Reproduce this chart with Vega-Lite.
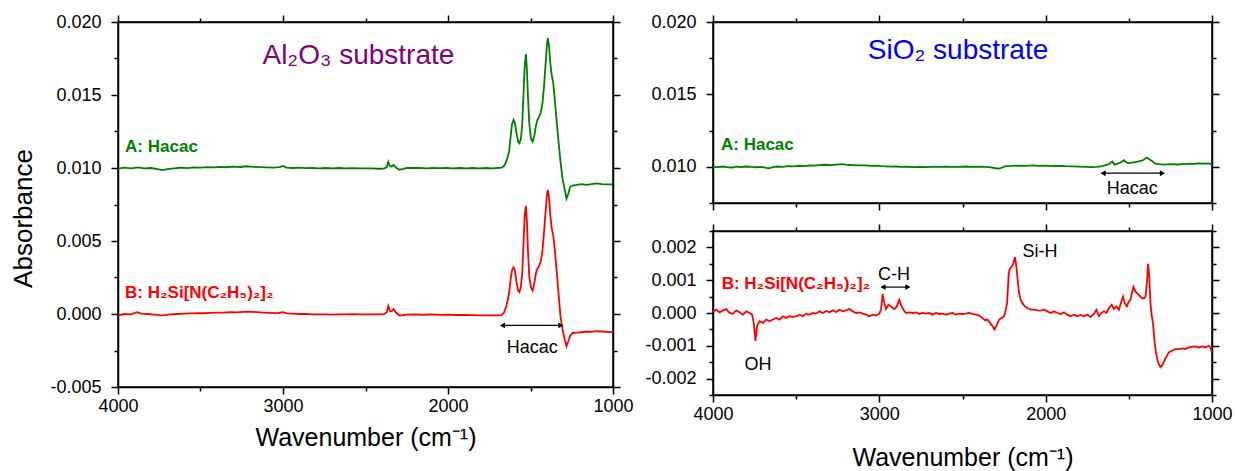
{
  "$schema": "https://vega.github.io/schema/vega-lite/v6.json",
  "background": "white",
  "padding": {"left": 10, "top": 12, "right": 2, "bottom": 2},
  "config": {
    "font": "Liberation Sans",
    "view": {"stroke": "black", "strokeWidth": 1.5},
    "axis": {"domainColor": "black", "domainWidth": 1.5, "tickColor": "black", "tickWidth": 1.5, "labelFont": "Liberation Sans", "labelFontSize": 18, "labelColor": "black", "titleFont": "Liberation Sans", "titleFontWeight": "normal", "titleColor": "black", "grid": false}
  },
  "datasets": {
    "al": [
      {"series":"A","w":4000,"v":0.00995},{"series":"A","w":3960,"v":0.01002},{"series":"A","w":3920,"v":0.00998},{"series":"A","w":3880,"v":0.01004},{"series":"A","w":3840,"v":0.00998},{"series":"A","w":3800,"v":0.01000},{"series":"A","w":3760,"v":0.00992},{"series":"A","w":3730,"v":0.00985},{"series":"A","w":3700,"v":0.00993},{"series":"A","w":3660,"v":0.00998},{"series":"A","w":3620,"v":0.01002},{"series":"A","w":3580,"v":0.00999},{"series":"A","w":3540,"v":0.01004},{"series":"A","w":3500,"v":0.01002},{"series":"A","w":3460,"v":0.01006},{"series":"A","w":3420,"v":0.01004},{"series":"A","w":3380,"v":0.01008},{"series":"A","w":3340,"v":0.01005},{"series":"A","w":3300,"v":0.01009},{"series":"A","w":3260,"v":0.01007},{"series":"A","w":3220,"v":0.01012},{"series":"A","w":3180,"v":0.01008},{"series":"A","w":3140,"v":0.01006},{"series":"A","w":3100,"v":0.01004},{"series":"A","w":3060,"v":0.01002},{"series":"A","w":3020,"v":0.01006},{"series":"A","w":3000,"v":0.01014},{"series":"A","w":2980,"v":0.01003},{"series":"A","w":2940,"v":0.01000},{"series":"A","w":2900,"v":0.01002},{"series":"A","w":2860,"v":0.00999},{"series":"A","w":2820,"v":0.01001},{"series":"A","w":2780,"v":0.00998},{"series":"A","w":2740,"v":0.01000},{"series":"A","w":2700,"v":0.00998},{"series":"A","w":2660,"v":0.01000},{"series":"A","w":2620,"v":0.00997},{"series":"A","w":2580,"v":0.00999},{"series":"A","w":2540,"v":0.00998},{"series":"A","w":2500,"v":0.00997},{"series":"A","w":2460,"v":0.00998},{"series":"A","w":2420,"v":0.00995},{"series":"A","w":2390,"v":0.00996},{"series":"A","w":2372,"v":0.01005},{"series":"A","w":2362,"v":0.01042},{"series":"A","w":2352,"v":0.01012},{"series":"A","w":2342,"v":0.01010},{"series":"A","w":2330,"v":0.01021},{"series":"A","w":2315,"v":0.01003},{"series":"A","w":2295,"v":0.00988},{"series":"A","w":2275,"v":0.00993},{"series":"A","w":2250,"v":0.01000},{"series":"A","w":2210,"v":0.01001},{"series":"A","w":2170,"v":0.01000},{"series":"A","w":2130,"v":0.00998},{"series":"A","w":2090,"v":0.01001},{"series":"A","w":2050,"v":0.00999},{"series":"A","w":2010,"v":0.01000},{"series":"A","w":1970,"v":0.00998},{"series":"A","w":1930,"v":0.01000},{"series":"A","w":1890,"v":0.00997},{"series":"A","w":1850,"v":0.01000},{"series":"A","w":1810,"v":0.00998},{"series":"A","w":1770,"v":0.01000},{"series":"A","w":1730,"v":0.00997},{"series":"A","w":1700,"v":0.01000},{"series":"A","w":1675,"v":0.01002},{"series":"A","w":1660,"v":0.01015},{"series":"A","w":1645,"v":0.0105},{"series":"A","w":1630,"v":0.0111},{"series":"A","w":1620,"v":0.0122},{"series":"A","w":1612,"v":0.0130},{"series":"A","w":1603,"v":0.0133},{"series":"A","w":1595,"v":0.0131},{"series":"A","w":1585,"v":0.0124},{"series":"A","w":1575,"v":0.0118},{"series":"A","w":1567,"v":0.0117},{"series":"A","w":1558,"v":0.0120},{"series":"A","w":1550,"v":0.0130},{"series":"A","w":1542,"v":0.0152},{"series":"A","w":1535,"v":0.0170},{"series":"A","w":1528,"v":0.0178},{"series":"A","w":1522,"v":0.0168},{"series":"A","w":1515,"v":0.0148},{"series":"A","w":1507,"v":0.0130},{"series":"A","w":1497,"v":0.0120},{"series":"A","w":1487,"v":0.0118},{"series":"A","w":1477,"v":0.0122},{"series":"A","w":1467,"v":0.0129},{"series":"A","w":1458,"v":0.0133},{"series":"A","w":1448,"v":0.0135},{"series":"A","w":1438,"v":0.0138},{"series":"A","w":1428,"v":0.0144},{"series":"A","w":1418,"v":0.0156},{"series":"A","w":1408,"v":0.0172},{"series":"A","w":1400,"v":0.0185},{"series":"A","w":1395,"v":0.0189},{"series":"A","w":1388,"v":0.0184},{"series":"A","w":1380,"v":0.0172},{"series":"A","w":1372,"v":0.0164},{"series":"A","w":1362,"v":0.0158},{"series":"A","w":1352,"v":0.0146},{"series":"A","w":1342,"v":0.0133},{"series":"A","w":1330,"v":0.0118},{"series":"A","w":1318,"v":0.0104},{"series":"A","w":1305,"v":0.0092},{"series":"A","w":1292,"v":0.0085},{"series":"A","w":1282,"v":0.0079},{"series":"A","w":1272,"v":0.0082},{"series":"A","w":1260,"v":0.0087},{"series":"A","w":1245,"v":0.0088},{"series":"A","w":1220,"v":0.00885},{"series":"A","w":1190,"v":0.0089},{"series":"A","w":1160,"v":0.00885},{"series":"A","w":1130,"v":0.0089},{"series":"A","w":1100,"v":0.00895},{"series":"A","w":1070,"v":0.0089},{"series":"A","w":1040,"v":0.00888},{"series":"A","w":1000,"v":0.00888},
      {"series":"B","w":4000,"v":-0.0001},{"series":"B","w":3960,"v":0.0},{"series":"B","w":3920,"v":-0.00002},{"series":"B","w":3885,"v":0.00012},{"series":"B","w":3860,"v":0.00002},{"series":"B","w":3820,"v":0.0},{"series":"B","w":3780,"v":-0.00004},{"series":"B","w":3740,"v":-0.0001},{"series":"B","w":3720,"v":-0.00008},{"series":"B","w":3680,"v":-0.00002},{"series":"B","w":3640,"v":0.0},{"series":"B","w":3600,"v":0.00002},{"series":"B","w":3560,"v":0.00004},{"series":"B","w":3520,"v":0.00006},{"series":"B","w":3480,"v":0.00005},{"series":"B","w":3440,"v":0.00008},{"series":"B","w":3400,"v":0.00009},{"series":"B","w":3360,"v":0.0001},{"series":"B","w":3320,"v":0.00012},{"series":"B","w":3280,"v":0.00011},{"series":"B","w":3240,"v":0.00014},{"series":"B","w":3200,"v":0.00016},{"series":"B","w":3160,"v":0.00013},{"series":"B","w":3120,"v":0.0001},{"series":"B","w":3080,"v":0.00008},{"series":"B","w":3040,"v":0.00006},{"series":"B","w":3000,"v":0.00012},{"series":"B","w":2975,"v":0.00004},{"series":"B","w":2940,"v":0.00002},{"series":"B","w":2900,"v":0.0},{"series":"B","w":2860,"v":0.00001},{"series":"B","w":2820,"v":-0.00002},{"series":"B","w":2780,"v":-0.00003},{"series":"B","w":2740,"v":-0.00002},{"series":"B","w":2700,"v":-0.00004},{"series":"B","w":2660,"v":-0.00002},{"series":"B","w":2620,"v":-0.00003},{"series":"B","w":2580,"v":-0.00001},{"series":"B","w":2540,"v":-0.00002},{"series":"B","w":2500,"v":-0.00003},{"series":"B","w":2460,"v":-0.00002},{"series":"B","w":2420,"v":-0.00003},{"series":"B","w":2390,"v":-0.00002},{"series":"B","w":2372,"v":0.0001},{"series":"B","w":2362,"v":0.00055},{"series":"B","w":2352,"v":0.0002},{"series":"B","w":2342,"v":0.00018},{"series":"B","w":2330,"v":0.00033},{"series":"B","w":2315,"v":0.0001},{"series":"B","w":2295,"v":-0.0001},{"series":"B","w":2275,"v":-0.00008},{"series":"B","w":2250,"v":-0.00004},{"series":"B","w":2200,"v":-0.00003},{"series":"B","w":2150,"v":-0.00005},{"series":"B","w":2100,"v":-0.00003},{"series":"B","w":2050,"v":-0.00006},{"series":"B","w":2000,"v":-0.00005},{"series":"B","w":1950,"v":-0.00007},{"series":"B","w":1900,"v":-0.00006},{"series":"B","w":1850,"v":-0.00008},{"series":"B","w":1800,"v":-0.0001},{"series":"B","w":1750,"v":-0.00009},{"series":"B","w":1700,"v":-0.0001},{"series":"B","w":1675,"v":-0.00008},{"series":"B","w":1660,"v":0.0001},{"series":"B","w":1645,"v":0.0006},{"series":"B","w":1630,"v":0.0014},{"series":"B","w":1620,"v":0.0024},{"series":"B","w":1612,"v":0.0030},{"series":"B","w":1603,"v":0.0032},{"series":"B","w":1595,"v":0.0030},{"series":"B","w":1585,"v":0.0022},{"series":"B","w":1575,"v":0.0016},{"series":"B","w":1567,"v":0.0015},{"series":"B","w":1558,"v":0.0019},{"series":"B","w":1550,"v":0.0028},{"series":"B","w":1542,"v":0.0050},{"series":"B","w":1535,"v":0.0068},{"series":"B","w":1528,"v":0.0074},{"series":"B","w":1522,"v":0.0064},{"series":"B","w":1515,"v":0.0042},{"series":"B","w":1507,"v":0.0025},{"series":"B","w":1497,"v":0.0018},{"series":"B","w":1487,"v":0.0016},{"series":"B","w":1477,"v":0.0021},{"series":"B","w":1467,"v":0.0028},{"series":"B","w":1458,"v":0.0031},{"series":"B","w":1448,"v":0.0033},{"series":"B","w":1438,"v":0.0036},{"series":"B","w":1428,"v":0.0043},{"series":"B","w":1418,"v":0.0056},{"series":"B","w":1408,"v":0.0071},{"series":"B","w":1400,"v":0.0082},{"series":"B","w":1395,"v":0.0085},{"series":"B","w":1388,"v":0.0080},{"series":"B","w":1380,"v":0.0068},{"series":"B","w":1372,"v":0.0059},{"series":"B","w":1362,"v":0.0054},{"series":"B","w":1352,"v":0.0043},{"series":"B","w":1342,"v":0.0030},{"series":"B","w":1330,"v":0.0014},{"series":"B","w":1318,"v":-0.0002},{"series":"B","w":1305,"v":-0.0011},{"series":"B","w":1292,"v":-0.0018},{"series":"B","w":1282,"v":-0.0022},{"series":"B","w":1272,"v":-0.0019},{"series":"B","w":1260,"v":-0.0015},{"series":"B","w":1245,"v":-0.0013},{"series":"B","w":1220,"v":-0.00128},{"series":"B","w":1190,"v":-0.00125},{"series":"B","w":1160,"v":-0.0012},{"series":"B","w":1130,"v":-0.00122},{"series":"B","w":1100,"v":-0.00118},{"series":"B","w":1070,"v":-0.0012},{"series":"B","w":1040,"v":-0.00122},{"series":"B","w":1000,"v":-0.00125}
    ],
    "sia": [
      {"w":4000,"v":0.0100},{"w":3970,"v":0.00998},{"w":3940,"v":0.01002},{"w":3910,"v":0.00996},{"w":3884,"v":0.00995},{"w":3860,"v":0.01001},{"w":3830,"v":0.00998},{"w":3800,"v":0.01002},{"w":3770,"v":0.00999},{"w":3740,"v":0.00997},{"w":3710,"v":0.01000},{"w":3680,"v":0.00993},{"w":3664,"v":0.0099},{"w":3640,"v":0.00998},{"w":3610,"v":0.01002},{"w":3580,"v":0.01000},{"w":3550,"v":0.01004},{"w":3520,"v":0.01003},{"w":3483,"v":0.01007},{"w":3450,"v":0.01005},{"w":3420,"v":0.01009},{"w":3390,"v":0.01008},{"w":3360,"v":0.01012},{"w":3323,"v":0.01014},{"w":3290,"v":0.01011},{"w":3260,"v":0.01015},{"w":3223,"v":0.01018},{"w":3190,"v":0.01014},{"w":3160,"v":0.01012},{"w":3120,"v":0.01010},{"w":3082,"v":0.01010},{"w":3050,"v":0.01006},{"w":3020,"v":0.01008},{"w":2990,"v":0.01004},{"w":2960,"v":0.01003},{"w":2930,"v":0.01001},{"w":2900,"v":0.01002},{"w":2870,"v":0.00999},{"w":2840,"v":0.01001},{"w":2800,"v":0.00998},{"w":2760,"v":0.01000},{"w":2720,"v":0.00998},{"w":2681,"v":0.01000},{"w":2640,"v":0.00999},{"w":2600,"v":0.01001},{"w":2560,"v":0.00999},{"w":2520,"v":0.01000},{"w":2481,"v":0.01002},{"w":2440,"v":0.01000},{"w":2400,"v":0.01001},{"w":2361,"v":0.01000},{"w":2330,"v":0.00996},{"w":2300,"v":0.00990},{"w":2281,"v":0.00988},{"w":2260,"v":0.00995},{"w":2241,"v":0.01005},{"w":2200,"v":0.01006},{"w":2160,"v":0.01008},{"w":2120,"v":0.01006},{"w":2080,"v":0.01010},{"w":2040,"v":0.01007},{"w":2000,"v":0.01008},{"w":1960,"v":0.01005},{"w":1920,"v":0.01007},{"w":1880,"v":0.01004},{"w":1840,"v":0.01003},{"w":1800,"v":0.01001},{"w":1760,"v":0.01000},{"w":1720,"v":0.00998},{"w":1690,"v":0.01000},{"w":1660,"v":0.01005},{"w":1640,"v":0.01012},{"w":1620,"v":0.01018},{"w":1600,"v":0.01036},{"w":1585,"v":0.01015},{"w":1570,"v":0.01020},{"w":1550,"v":0.01030},{"w":1530,"v":0.01046},{"w":1515,"v":0.01030},{"w":1500,"v":0.01025},{"w":1470,"v":0.01030},{"w":1440,"v":0.01037},{"w":1415,"v":0.01045},{"w":1393,"v":0.01064},{"w":1375,"v":0.01050},{"w":1359,"v":0.01038},{"w":1340,"v":0.01022},{"w":1319,"v":0.01018},{"w":1290,"v":0.01015},{"w":1250,"v":0.01018},{"w":1210,"v":0.01016},{"w":1178,"v":0.01018},{"w":1140,"v":0.01020},{"w":1110,"v":0.01021},{"w":1078,"v":0.01023},{"w":1050,"v":0.01022},{"w":1018,"v":0.01024},{"w":1000,"v":0.01016}
    ],
    "sib": [
      {"w":4000,"v":0.00005},{"w":3980,"v":0.0001},{"w":3960,"v":0.00002},{"w":3940,"v":0.00008},{"w":3920,"v":0.00012},{"w":3900,"v":0.0},{"w":3880,"v":-0.00002},{"w":3860,"v":0.00008},{"w":3840,"v":0.00002},{"w":3820,"v":-0.00005},{"w":3800,"v":0.00005},{"w":3780,"v":0.0},{"w":3765,"v":-0.00005},{"w":3755,"v":-0.0003},{"w":3745,"v":-0.00085},{"w":3735,"v":-0.0004},{"w":3720,"v":-0.00025},{"w":3700,"v":-0.0003},{"w":3680,"v":-0.0002},{"w":3660,"v":-0.00025},{"w":3640,"v":-0.0002},{"w":3620,"v":-0.00015},{"w":3600,"v":-0.0002},{"w":3580,"v":-0.0001},{"w":3560,"v":-0.00015},{"w":3540,"v":-0.0001},{"w":3520,"v":-0.00012},{"w":3500,"v":-0.0001},{"w":3480,"v":-0.00005},{"w":3460,"v":-0.0001},{"w":3440,"v":-0.00002},{"w":3420,"v":-0.00005},{"w":3400,"v":0.0},{"w":3380,"v":-0.00002},{"w":3360,"v":0.00005},{"w":3340,"v":0.0},{"w":3320,"v":0.00006},{"w":3300,"v":0.00002},{"w":3280,"v":0.00008},{"w":3260,"v":0.00003},{"w":3240,"v":0.0001},{"w":3220,"v":0.00005},{"w":3200,"v":0.00008},{"w":3180,"v":0.00012},{"w":3160,"v":0.00005},{"w":3140,"v":0.0},{"w":3120,"v":0.00002},{"w":3100,"v":-0.00002},{"w":3080,"v":-0.00005},{"w":3060,"v":-0.0001},{"w":3040,"v":-0.00005},{"w":3020,"v":-0.00008},{"w":3000,"v":-0.00002},{"w":2990,"v":0.0001},{"w":2980,"v":0.00058},{"w":2970,"v":0.0003},{"w":2960,"v":0.00012},{"w":2945,"v":0.00025},{"w":2930,"v":0.0002},{"w":2910,"v":0.00012},{"w":2895,"v":0.0002},{"w":2880,"v":0.0004},{"w":2870,"v":0.00025},{"w":2855,"v":0.0001},{"w":2840,"v":0.0},{"w":2820,"v":0.00002},{"w":2800,"v":0.0},{"w":2780,"v":0.00002},{"w":2760,"v":-0.00003},{"w":2740,"v":0.0},{"w":2720,"v":-0.00002},{"w":2700,"v":0.0},{"w":2680,"v":-0.00005},{"w":2660,"v":0.0},{"w":2640,"v":-0.00003},{"w":2620,"v":-0.00002},{"w":2600,"v":-0.00005},{"w":2580,"v":-0.00002},{"w":2560,"v":0.0},{"w":2540,"v":-0.00005},{"w":2520,"v":-0.00002},{"w":2500,"v":-0.00003},{"w":2480,"v":-0.00002},{"w":2460,"v":0.0},{"w":2440,"v":-0.00003},{"w":2420,"v":-0.00005},{"w":2400,"v":-0.00008},{"w":2380,"v":-0.00015},{"w":2365,"v":-0.00022},{"w":2350,"v":-0.0002},{"w":2335,"v":-0.0003},{"w":2320,"v":-0.0004},{"w":2308,"v":-0.0005},{"w":2295,"v":-0.00038},{"w":2280,"v":-0.0002},{"w":2265,"v":-0.00015},{"w":2250,"v":-0.0001},{"w":2240,"v":0.0001},{"w":2232,"v":0.0003},{"w":2222,"v":0.0012},{"w":2215,"v":0.00135},{"w":2205,"v":0.0014},{"w":2195,"v":0.0015},{"w":2185,"v":0.0017},{"w":2178,"v":0.0015},{"w":2170,"v":0.0011},{"w":2160,"v":0.0006},{"w":2150,"v":0.0004},{"w":2140,"v":0.0003},{"w":2125,"v":0.0002},{"w":2110,"v":0.00015},{"w":2090,"v":0.0001},{"w":2070,"v":0.0001},{"w":2050,"v":0.00008},{"w":2030,"v":0.00007},{"w":2010,"v":0.0001},{"w":1990,"v":0.00005},{"w":1970,"v":0.0},{"w":1950,"v":0.00005},{"w":1930,"v":0.0},{"w":1910,"v":-0.00003},{"w":1890,"v":0.00002},{"w":1870,"v":-0.00005},{"w":1850,"v":-0.0001},{"w":1830,"v":-0.00005},{"w":1810,"v":-0.0001},{"w":1790,"v":-0.00006},{"w":1770,"v":-0.0001},{"w":1750,"v":-0.00005},{"w":1730,"v":-0.00012},{"w":1710,"v":-0.00003},{"w":1695,"v":0.0001},{"w":1680,"v":-0.0001},{"w":1665,"v":0.0},{"w":1650,"v":0.00005},{"w":1635,"v":0.0},{"w":1620,"v":0.00015},{"w":1603,"v":0.00025},{"w":1590,"v":0.00012},{"w":1575,"v":0.0002},{"w":1560,"v":0.0001},{"w":1545,"v":0.00035},{"w":1535,"v":0.0005},{"w":1525,"v":0.0003},{"w":1512,"v":0.0002},{"w":1500,"v":0.00035},{"w":1490,"v":0.0004},{"w":1480,"v":0.00065},{"w":1472,"v":0.0008},{"w":1460,"v":0.00065},{"w":1450,"v":0.0006},{"w":1440,"v":0.00055},{"w":1430,"v":0.0005},{"w":1420,"v":0.00045},{"w":1410,"v":0.00045},{"w":1400,"v":0.0005},{"w":1390,"v":0.001},{"w":1385,"v":0.0015},{"w":1378,"v":0.0012},{"w":1370,"v":0.0003},{"w":1362,"v":-0.0001},{"w":1355,"v":-0.0003},{"w":1345,"v":-0.0009},{"w":1337,"v":-0.0012},{"w":1325,"v":-0.0015},{"w":1310,"v":-0.00165},{"w":1300,"v":-0.0016},{"w":1290,"v":-0.0015},{"w":1280,"v":-0.00138},{"w":1270,"v":-0.0013},{"w":1260,"v":-0.0012},{"w":1240,"v":-0.00115},{"w":1220,"v":-0.0011},{"w":1200,"v":-0.0011},{"w":1180,"v":-0.00108},{"w":1160,"v":-0.0011},{"w":1140,"v":-0.00105},{"w":1120,"v":-0.00103},{"w":1100,"v":-0.00102},{"w":1080,"v":-0.00105},{"w":1060,"v":-0.00102},{"w":1040,"v":-0.00105},{"w":1020,"v":-0.001},{"w":1010,"v":-0.00105},{"w":1000,"v":-0.0012}
    ],
    "arrows": [
      {"panel":"al","wl":1670,"wr":1316,"v":-0.00078},
      {"panel":"sia","wl":1655,"wr":1298,"v":0.00956},
      {"panel":"sib","wl":2978,"wr":2828,"v":0.00079}
    ],
    "notes": [
      {"panel":"al","kind":"title","w":2543,"v":0.0171,"label":"Al₂O₃ substrate"},
      {"panel":"al","kind":"A","w":3957,"v":0.0111,"label":"A: Hacac"},
      {"panel":"al","kind":"B","w":3957,"v":0.00112,"label":"B: H₂Si[N(C₂H₅)₂]₂"},
      {"panel":"al","kind":"note","w":1490,"v":-0.0027,"label":"Hacac"},
      {"panel":"sia","kind":"title","w":2527,"v":0.01743,"label":"SiO₂ substrate"},
      {"panel":"sia","kind":"A","w":3952,"v":0.01117,"label":"A: Hacac"},
      {"panel":"sia","kind":"note","w":1479,"v":0.00809,"label":"Hacac"},
      {"panel":"sib","kind":"B","w":3948,"v":0.00073,"label":"B: H₂Si[N(C₂H₅)₂]₂"},
      {"panel":"sib","kind":"note","w":2912,"v":0.000995,"label":"C-H"},
      {"panel":"sib","kind":"note","w":3729,"v":-0.00175,"label":"OH"},
      {"panel":"sib","kind":"note","w":2034,"v":0.00171,"label":"Si-H"}
    ]
  },
  "hconcat": [
    {
      "width": 495,
      "height": 365,
      "resolve": {"axis": {"x": "independent", "y": "independent"}},
      "layer": [
        {
          "data": {"name": "al"},
          "mark": {"type": "line", "strokeWidth": 1.8},
          "encoding": {
            "x": {"field": "w", "type": "quantitative", "scale": {"domain": [1000, 4000], "reverse": true, "nice": false, "zero": false},
              "axis": {"orient": "bottom", "title": "Wavenumber (cm⁻¹)", "values": [1000,1500,2000,2500,3000,3500,4000], "format": "d", "labelExpr": "datum.value % 1000 === 0 ? datum.label : ''", "tickSize": {"condition": {"test": "datum.value % 1000 === 0", "value": 7}, "value": 4}, "labelOverlap": false, "labelFlush": false, "labelPadding": 3, "titleFontSize": 25, "titlePadding": 10}},
            "y": {"field": "v", "type": "quantitative", "scale": {"domain": [-0.005, 0.02], "nice": false, "zero": false},
              "axis": {"orient": "left", "title": "Absorbance", "titleFontSize": 26, "titlePadding": 13, "titleY": 196, "values": [-0.005,-0.0025,0,0.0025,0.005,0.0075,0.01,0.0125,0.015,0.0175,0.02], "format": ".3f", "labelExpr": "abs(round(datum.value*10000)) % 50 === 0 ? replace(datum.label, '−', '-') : ''", "tickSize": {"condition": {"test": "abs(round(datum.value*10000)) % 50 === 0", "value": 7}, "value": 4}, "labelOverlap": false, "labelFlush": false, "labelPadding": 10}},
            "color": {"field": "series", "type": "nominal", "scale": {"domain": ["A", "B"], "range": ["#008000", "#ff0000"]}, "legend": null}
          }
        },
        {
          "data": {"name": "arrows"},
          "transform": [{"filter": "datum.panel === 'al'"}],
          "mark": {"type": "rule", "color": "black", "strokeWidth": 1.2},
          "encoding": {
            "x": {"field": "wl", "type": "quantitative", "scale": {"domain": [1000, 4000], "reverse": true, "nice": false, "zero": false},
              "axis": {"orient": "top", "title": null, "labels": false, "values": [1000,1500,2000,2500,3000,3500,4000], "tickSize": {"condition": {"test": "datum.value % 1000 === 0", "value": 7}, "value": 4}}},
            "x2": {"field": "wr"},
            "y": {"field": "v", "type": "quantitative", "scale": {"domain": [-0.005, 0.02], "nice": false, "zero": false},
              "axis": {"orient": "right", "title": null, "labels": false, "values": [-0.005,-0.0025,0,0.0025,0.005,0.0075,0.01,0.0125,0.015,0.0175,0.02], "tickSize": {"condition": {"test": "abs(round(datum.value*10000)) % 50 === 0", "value": 7}, "value": 4}}}
          }
        },
        {
          "data": {"name": "arrows"},
          "transform": [{"filter": "datum.panel === 'al'"}],
          "mark": {"type": "point", "shape": "triangle-left", "filled": true, "color": "black", "size": 35, "opacity": 1},
          "encoding": {
            "x": {"field": "wl", "type": "quantitative", "scale": {"domain": [1000, 4000], "reverse": true, "nice": false, "zero": false}, "axis": null},
            "y": {"field": "v", "type": "quantitative", "scale": {"domain": [-0.005, 0.02], "nice": false, "zero": false}, "axis": null}
          }
        },
        {
          "data": {"name": "arrows"},
          "transform": [{"filter": "datum.panel === 'al'"}],
          "mark": {"type": "point", "shape": "triangle-right", "filled": true, "color": "black", "size": 35, "opacity": 1},
          "encoding": {
            "x": {"field": "wr", "type": "quantitative", "scale": {"domain": [1000, 4000], "reverse": true, "nice": false, "zero": false}, "axis": null},
            "y": {"field": "v", "type": "quantitative", "scale": {"domain": [-0.005, 0.02], "nice": false, "zero": false}, "axis": null}
          }
        },
        {
          "data": {"name": "notes"},
          "transform": [{"filter": "datum.panel === 'al' && datum.kind === 'title'"}],
          "mark": {"type": "text", "color": "#800080", "fontSize": 28, "align": "center", "baseline": "alphabetic"},
          "encoding": {
            "x": {"field": "w", "type": "quantitative", "scale": {"domain": [1000, 4000], "reverse": true, "nice": false, "zero": false}, "axis": null},
            "y": {"field": "v", "type": "quantitative", "scale": {"domain": [-0.005, 0.02], "nice": false, "zero": false}, "axis": null},
            "text": {"field": "label"}
          }
        },
        {
          "data": {"name": "notes"},
          "transform": [{"filter": "datum.panel === 'al' && datum.kind === 'A'"}],
          "mark": {"type": "text", "color": "#008000", "fontSize": 17, "fontWeight": "bold", "align": "left", "baseline": "alphabetic"},
          "encoding": {
            "x": {"field": "w", "type": "quantitative", "scale": {"domain": [1000, 4000], "reverse": true, "nice": false, "zero": false}, "axis": null},
            "y": {"field": "v", "type": "quantitative", "scale": {"domain": [-0.005, 0.02], "nice": false, "zero": false}, "axis": null},
            "text": {"field": "label"}
          }
        },
        {
          "data": {"name": "notes"},
          "transform": [{"filter": "datum.panel === 'al' && datum.kind === 'B'"}],
          "mark": {"type": "text", "color": "#ff0000", "fontSize": 17, "fontWeight": "bold", "align": "left", "baseline": "alphabetic"},
          "encoding": {
            "x": {"field": "w", "type": "quantitative", "scale": {"domain": [1000, 4000], "reverse": true, "nice": false, "zero": false}, "axis": null},
            "y": {"field": "v", "type": "quantitative", "scale": {"domain": [-0.005, 0.02], "nice": false, "zero": false}, "axis": null},
            "text": {"field": "label"}
          }
        },
        {
          "data": {"name": "notes"},
          "transform": [{"filter": "datum.panel === 'al' && datum.kind === 'note'"}],
          "mark": {"type": "text", "color": "black", "fontSize": 18, "align": "center", "baseline": "alphabetic"},
          "encoding": {
            "x": {"field": "w", "type": "quantitative", "scale": {"domain": [1000, 4000], "reverse": true, "nice": false, "zero": false}, "axis": null},
            "y": {"field": "v", "type": "quantitative", "scale": {"domain": [-0.005, 0.02], "nice": false, "zero": false}, "axis": null},
            "text": {"field": "label"}
          }
        }
      ]
    },
    {
      "spacing": 8,
      "vconcat": [
        {
          "width": 499,
          "height": 181,
          "resolve": {"axis": {"x": "independent", "y": "independent"}},
          "layer": [
            {
              "data": {"name": "sia"},
              "mark": {"type": "line", "strokeWidth": 1.8, "color": "#008000"},
              "encoding": {
                "x": {"field": "w", "type": "quantitative", "scale": {"domain": [1000, 4000], "reverse": true, "nice": false, "zero": false},
                  "axis": {"orient": "bottom", "title": null, "labels": false, "values": [1000,1500,2000,2500,3000,3500,4000], "tickSize": {"condition": {"test": "datum.value % 1000 === 0", "value": 7}, "value": 4}}},
                "y": {"field": "v", "type": "quantitative", "scale": {"domain": [0.0075, 0.02], "nice": false, "zero": false},
                  "axis": {"orient": "left", "title": null, "values": [0.0075,0.01,0.0125,0.015,0.0175,0.02], "format": ".3f", "labelExpr": "abs(round(datum.value*10000)) % 50 === 0 ? datum.label : ''", "tickSize": {"condition": {"test": "abs(round(datum.value*10000)) % 50 === 0", "value": 7}, "value": 4}, "labelOverlap": false, "labelFlush": false, "labelPadding": 10}}
              }
            },
            {
              "data": {"name": "arrows"},
              "transform": [{"filter": "datum.panel === 'sia'"}],
              "mark": {"type": "rule", "color": "black", "strokeWidth": 1.2},
              "encoding": {
                "x": {"field": "wl", "type": "quantitative", "scale": {"domain": [1000, 4000], "reverse": true, "nice": false, "zero": false},
                  "axis": {"orient": "top", "title": null, "labels": false, "values": [1000,1500,2000,2500,3000,3500,4000], "tickSize": {"condition": {"test": "datum.value % 1000 === 0", "value": 7}, "value": 4}}},
                "x2": {"field": "wr"},
                "y": {"field": "v", "type": "quantitative", "scale": {"domain": [0.0075, 0.02], "nice": false, "zero": false},
                  "axis": {"orient": "right", "title": null, "labels": false, "values": [0.0075,0.01,0.0125,0.015,0.0175,0.02], "tickSize": {"condition": {"test": "abs(round(datum.value*10000)) % 50 === 0", "value": 7}, "value": 4}}}
              }
            },
            {
              "data": {"name": "arrows"},
              "transform": [{"filter": "datum.panel === 'sia'"}],
              "mark": {"type": "point", "shape": "triangle-left", "filled": true, "color": "black", "size": 35, "opacity": 1},
              "encoding": {
                "x": {"field": "wl", "type": "quantitative", "scale": {"domain": [1000, 4000], "reverse": true, "nice": false, "zero": false}, "axis": null},
                "y": {"field": "v", "type": "quantitative", "scale": {"domain": [0.0075, 0.02], "nice": false, "zero": false}, "axis": null}
              }
            },
            {
              "data": {"name": "arrows"},
              "transform": [{"filter": "datum.panel === 'sia'"}],
              "mark": {"type": "point", "shape": "triangle-right", "filled": true, "color": "black", "size": 35, "opacity": 1},
              "encoding": {
                "x": {"field": "wr", "type": "quantitative", "scale": {"domain": [1000, 4000], "reverse": true, "nice": false, "zero": false}, "axis": null},
                "y": {"field": "v", "type": "quantitative", "scale": {"domain": [0.0075, 0.02], "nice": false, "zero": false}, "axis": null}
              }
            },
            {
              "data": {"name": "notes"},
              "transform": [{"filter": "datum.panel === 'sia' && datum.kind === 'title'"}],
              "mark": {"type": "text", "color": "#0000ff", "fontSize": 28, "align": "center", "baseline": "alphabetic"},
              "encoding": {
                "x": {"field": "w", "type": "quantitative", "scale": {"domain": [1000, 4000], "reverse": true, "nice": false, "zero": false}, "axis": null},
                "y": {"field": "v", "type": "quantitative", "scale": {"domain": [0.0075, 0.02], "nice": false, "zero": false}, "axis": null},
                "text": {"field": "label"}
              }
            },
            {
              "data": {"name": "notes"},
              "transform": [{"filter": "datum.panel === 'sia' && datum.kind === 'A'"}],
              "mark": {"type": "text", "color": "#008000", "fontSize": 17, "fontWeight": "bold", "align": "left", "baseline": "alphabetic"},
              "encoding": {
                "x": {"field": "w", "type": "quantitative", "scale": {"domain": [1000, 4000], "reverse": true, "nice": false, "zero": false}, "axis": null},
                "y": {"field": "v", "type": "quantitative", "scale": {"domain": [0.0075, 0.02], "nice": false, "zero": false}, "axis": null},
                "text": {"field": "label"}
              }
            },
            {
              "data": {"name": "notes"},
              "transform": [{"filter": "datum.panel === 'sia' && datum.kind === 'note'"}],
              "mark": {"type": "text", "color": "black", "fontSize": 18, "align": "center", "baseline": "alphabetic"},
              "encoding": {
                "x": {"field": "w", "type": "quantitative", "scale": {"domain": [1000, 4000], "reverse": true, "nice": false, "zero": false}, "axis": null},
                "y": {"field": "v", "type": "quantitative", "scale": {"domain": [0.0075, 0.02], "nice": false, "zero": false}, "axis": null},
                "text": {"field": "label"}
              }
            }
          ]
        },
        {
          "width": 499,
          "height": 164,
          "resolve": {"axis": {"x": "independent", "y": "independent"}},
          "layer": [
            {
              "data": {"name": "sib"},
              "mark": {"type": "line", "strokeWidth": 1.8, "color": "#ff0000"},
              "encoding": {
                "x": {"field": "w", "type": "quantitative", "scale": {"domain": [1000, 4000], "reverse": true, "nice": false, "zero": false},
                  "axis": {"orient": "bottom", "title": "Wavenumber (cm⁻¹)", "values": [1000,1500,2000,2500,3000,3500,4000], "format": "d", "labelExpr": "datum.value % 1000 === 0 ? datum.label : ''", "tickSize": {"condition": {"test": "datum.value % 1000 === 0", "value": 7}, "value": 4}, "labelOverlap": false, "labelFlush": false, "labelPadding": 3, "titleFontSize": 25, "titlePadding": 22}},
                "y": {"field": "v", "type": "quantitative", "scale": {"domain": [-0.0025, 0.0025], "nice": false, "zero": false},
                  "axis": {"orient": "left", "title": null, "values": [-0.0025,-0.002,-0.0015,-0.001,-0.0005,0,0.0005,0.001,0.0015,0.002,0.0025], "format": ".3f", "labelExpr": "abs(round(datum.value*10000)) % 10 === 0 ? replace(datum.label, '−', '-') : ''", "tickSize": {"condition": {"test": "abs(round(datum.value*10000)) % 10 === 0", "value": 7}, "value": 4}, "labelOverlap": false, "labelFlush": false, "labelPadding": 10}}
              }
            },
            {
              "data": {"name": "arrows"},
              "transform": [{"filter": "datum.panel === 'sib'"}],
              "mark": {"type": "rule", "color": "black", "strokeWidth": 1.2},
              "encoding": {
                "x": {"field": "wl", "type": "quantitative", "scale": {"domain": [1000, 4000], "reverse": true, "nice": false, "zero": false},
                  "axis": {"orient": "top", "title": null, "labels": false, "values": [1000,1500,2000,2500,3000,3500,4000], "tickSize": {"condition": {"test": "datum.value % 1000 === 0", "value": 7}, "value": 4}}},
                "x2": {"field": "wr"},
                "y": {"field": "v", "type": "quantitative", "scale": {"domain": [-0.0025, 0.0025], "nice": false, "zero": false},
                  "axis": {"orient": "right", "title": null, "labels": false, "values": [-0.0025,-0.002,-0.0015,-0.001,-0.0005,0,0.0005,0.001,0.0015,0.002,0.0025], "tickSize": {"condition": {"test": "abs(round(datum.value*10000)) % 10 === 0", "value": 7}, "value": 4}}}
              }
            },
            {
              "data": {"name": "arrows"},
              "transform": [{"filter": "datum.panel === 'sib'"}],
              "mark": {"type": "point", "shape": "triangle-left", "filled": true, "color": "black", "size": 35, "opacity": 1},
              "encoding": {
                "x": {"field": "wl", "type": "quantitative", "scale": {"domain": [1000, 4000], "reverse": true, "nice": false, "zero": false}, "axis": null},
                "y": {"field": "v", "type": "quantitative", "scale": {"domain": [-0.0025, 0.0025], "nice": false, "zero": false}, "axis": null}
              }
            },
            {
              "data": {"name": "arrows"},
              "transform": [{"filter": "datum.panel === 'sib'"}],
              "mark": {"type": "point", "shape": "triangle-right", "filled": true, "color": "black", "size": 35, "opacity": 1},
              "encoding": {
                "x": {"field": "wr", "type": "quantitative", "scale": {"domain": [1000, 4000], "reverse": true, "nice": false, "zero": false}, "axis": null},
                "y": {"field": "v", "type": "quantitative", "scale": {"domain": [-0.0025, 0.0025], "nice": false, "zero": false}, "axis": null}
              }
            },
            {
              "data": {"name": "notes"},
              "transform": [{"filter": "datum.panel === 'sib' && datum.kind === 'B'"}],
              "mark": {"type": "text", "color": "#ff0000", "fontSize": 17, "fontWeight": "bold", "align": "left", "baseline": "alphabetic"},
              "encoding": {
                "x": {"field": "w", "type": "quantitative", "scale": {"domain": [1000, 4000], "reverse": true, "nice": false, "zero": false}, "axis": null},
                "y": {"field": "v", "type": "quantitative", "scale": {"domain": [-0.0025, 0.0025], "nice": false, "zero": false}, "axis": null},
                "text": {"field": "label"}
              }
            },
            {
              "data": {"name": "notes"},
              "transform": [{"filter": "datum.panel === 'sib' && datum.kind === 'note'"}],
              "mark": {"type": "text", "color": "black", "fontSize": 18, "align": "center", "baseline": "alphabetic"},
              "encoding": {
                "x": {"field": "w", "type": "quantitative", "scale": {"domain": [1000, 4000], "reverse": true, "nice": false, "zero": false}, "axis": null},
                "y": {"field": "v", "type": "quantitative", "scale": {"domain": [-0.0025, 0.0025], "nice": false, "zero": false}, "axis": null},
                "text": {"field": "label"}
              }
            }
          ]
        }
      ]
    }
  ],
  "spacing": 10
}
